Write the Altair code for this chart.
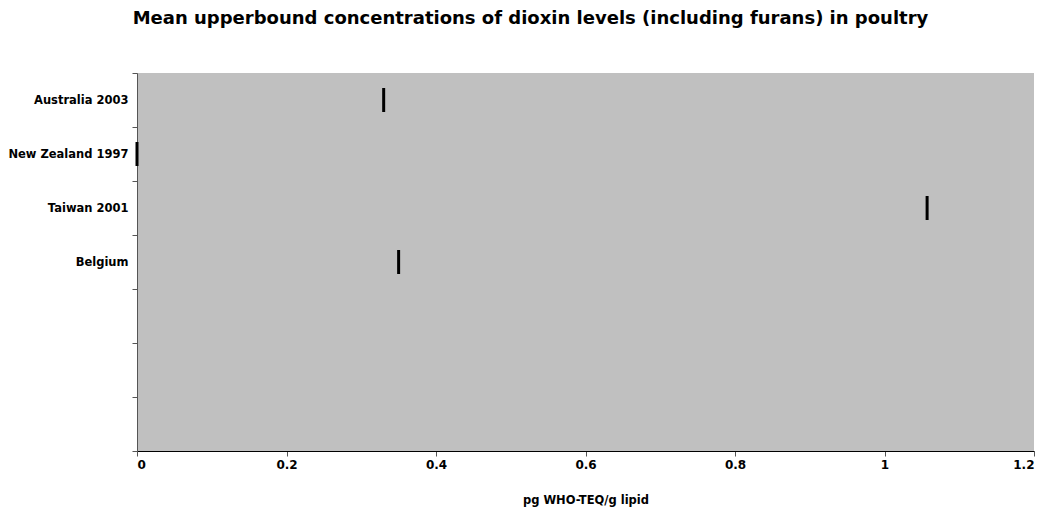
import altair as alt
import pandas as pd

categories = ["Australia 2003", "New Zealand 1997", "Taiwan 2001", "Belgium", " ", "  ", "   "]
labels = ["Australia 2003", "New Zealand 1997", "Taiwan 2001", "Belgium"]
values = [0.33, 0.0, 1.057, 0.35]
x_ticks = [0, 0.2, 0.4, 0.6, 0.8, 1, 1.2]

FONT = "DejaVu Sans"

df = pd.DataFrame({"country": labels, "value": values})

chart = alt.Chart(df).mark_tick(color="black", thickness=3, size=24, opacity=1).encode(
    x=alt.X("value:Q",
            scale=alt.Scale(domain=[0, 1.2], nice=False, zero=True),
            axis=alt.Axis(values=x_ticks, title="pg WHO-TEQ/g lipid", grid=False, format=".1~f",
                          labelFont=FONT, labelFontWeight="bold", labelFontSize=12,
                          labelColor="black", labelPadding=3,
                          titleFont=FONT, titleFontWeight="bold", titleFontSize=11.5,
                          titleColor="black", titleY=49, titleBaseline="middle",
                          domainColor="black", tickColor="#555555", tickSize=5)),
    y=alt.Y("country:N", sort=categories,
            scale=alt.Scale(domain=categories, paddingInner=0, paddingOuter=0),
            axis=alt.Axis(title=None, tickBand="extent", grid=False,
                          labelFont=FONT, labelFontWeight="bold", labelFontSize=11.5,
                          labelColor="black", labelPadding=4,
                          domainColor="#555555", tickColor="#555555", tickSize=5)),
).properties(
    width=897, height=378,
    title=alt.TitleParams("Mean upperbound concentrations of dioxin levels (including furans) in poultry",
                          font=FONT, fontSize=18, fontWeight="bold", color="black",
                          anchor="middle", dx=-55, offset=39),
    autosize=alt.AutoSizeParams(type="none"),
    padding={"left": 129, "top": 65, "right": 6, "bottom": 57},
).configure_view(fill="#c0c0c0", stroke=None)

chart.save("out.html", embed_options={"renderer": "svg", "actions": False})
